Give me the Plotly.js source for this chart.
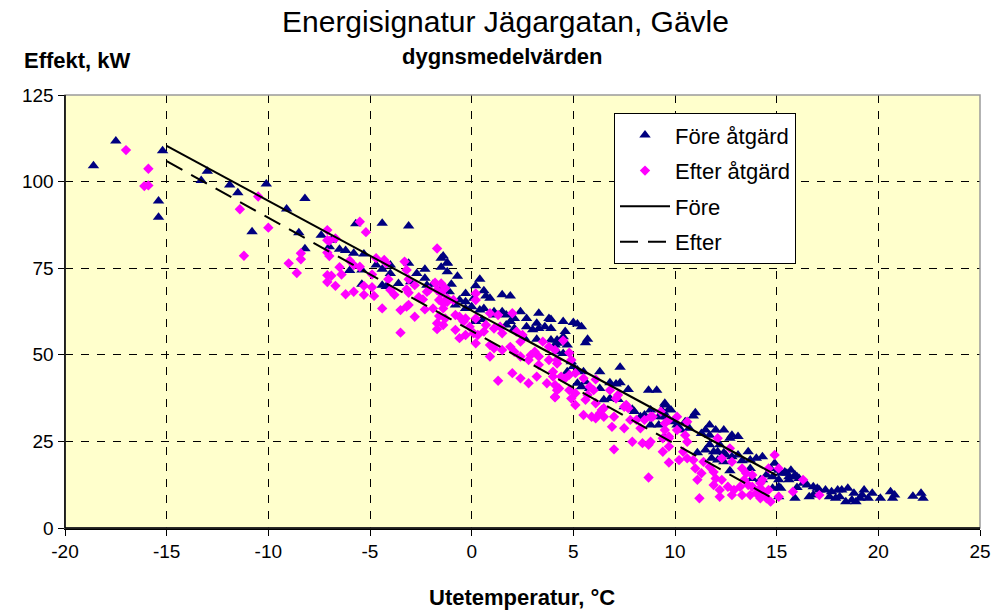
<!DOCTYPE html>
<html>
<head>
<meta charset="utf-8">
<script src="https://cdn.plot.ly/plotly-3.0.1.min.js"></script>
<style>html,body{margin:0;padding:0;background:#fff;}#chart{width:1000px;height:612px;}</style>
</head>
<body>
<div id="chart"></div>
<script>
// Före åtgärd (triangles): outdoor temperature °C and power kW
const foreX = [-17.5,-18.6,-15.2,-13.0,-13.3,-11.9,-11.5,-10.1,-15.4,-15.4,-10.8,-9.1,-8.2,-8.5,-8.2,-7.4,
  -5.7,-4.4,-3.1,-6.9,-7.0,-6.5,-6.2,-5.8,-5.3,-6.0,-5.4,-4.7,-4.4,-4.0,-4.0,-5.4,-4.4,-4.2,-3.6,-3.1,-2.7,-2.3,-2.3,-2.2,-3.0,-1.4,-1.2,-1.2,-1.5,-1.9,-1.4,
  -1.5,-1.2,-0.7,0.4,0.2,-1.0,-1.1,-0.3,0.6,0.7,0.9,-0.6,-0.3,0.1,1.5,1.9,-0.8,-0.3,0.0,0.4,0.6,1.1,1.1,1.5,1.7,2.4,2.7,3.3,3.8,2.1,1.9,0.2,0.5,1.4,1.7,2.1,2.7,3.0,3.3,3.6,3.2,3.9,4.2,4.1,2.6,3.2,
  3.9,4.5,5.0,5.2,5.4,4.6,4.5,5.7,5.6,3.9,4.2,4.7,4.2,4.5,4.9,5.0,4.7,5.2,5.5,6.3,7.3,5.2,5.4,5.6,5.8,6.3,6.8,7.1,7.3,7.7,6.5,6.8,7.2,7.9,8.0,7.5,8.7,9.1,9.5,9.8,9.4,8.8,8.5,9.2,9.6,8.8,9.2,8.3,9.5,10.1,
  9.5,9.7,9.4,11.0,10.9,9.9,10.5,10.7,10.3,11.7,11.5,11.3,11.7,12.0,12.4,12.8,13.1,12.7,11.1,11.5,11.7,11.9,12.2,12.1,12.4,12.5,12.8,13.1,13.6,14.0,14.3,13.3,13.7,12.7,12.4,11.8,12.1,14.7,14.9,15.1,15.4,15.7,16.0,15.6,15.1,14.8,14.5,14.3,15.1,14.8,15.1,16.0,13.7,13.8,14.2,
  15.2,15.5,15.6,15.9,16.1,16.3,16.5,16.8,17.0,17.1,15.2,15.9,16.6,16.8,17.4,17.7,18.0,18.2,18.5,17.6,17.9,18.1,18.4,18.7,18.9,19.1,18.8,19.2,19.3,19.5,19.7,20.1,20.6,20.8,20.7,21.7,22.1,22.2];
const foreY = [111.7,104.6,108.9,103.0,100.3,99.0,96.8,99.3,94.4,89.7,85.5,92.1,95.1,85.2,80.6,84.5,
  87.8,88.0,87.2,83.1,81.2,80.5,80.1,79.3,79.1,74.3,74.5,75.9,74.7,73.5,75.9,70.4,70.1,69.7,70.6,76.4,73.5,74.7,72.1,70.1,71.1,78.5,76.6,74.0,75.3,70.4,69.7,
  77.9,76.4,72.7,71.8,69.9,70.4,68.2,67.7,68.5,67.0,66.3,65.8,65.3,66.3,67.3,67.0,64.4,63.4,63.9,62.9,63.4,62.4,61.5,62.4,61.5,62.4,60.5,62.0,60.5,60.5,59.6,59.6,60.2,58.1,58.6,57.6,58.1,57.2,57.6,58.1,59.1,57.6,54.3,52.8,54.8,54.5,
  60.2,59.6,59.3,58.9,58.1,56.7,55.2,54.5,53.5,54.3,53.3,52.8,50.9,50.4,48.0,46.6,45.1,45.6,45.1,45.1,46.4,41.8,40.8,42.2,40.3,40.3,41.9,41.6,41.9,40.0,37.0,37.4,37.1,34.3,33.6,35.0,39.8,39.8,36.0,34.1,33.6,34.1,32.6,32.1,32.1,29.7,29.7,32.1,25.9,29.7,
  35.5,34.3,32.1,33.3,32.3,30.7,30.7,28.8,28.3,29.7,28.3,27.3,26.8,28.3,28.3,26.8,26.4,25.9,21.7,22.5,24.0,22.0,24.0,22.0,21.7,21.1,20.6,21.1,22.0,20.1,20.6,19.4,19.6,16.5,19.1,20.1,19.6,17.2,18.7,16.7,16.2,16.7,14.8,13.9,13.9,14.8,15.3,13.9,11.9,11.5,9.0,11.7,17.2,14.3,13.9,
  15.8,15.8,14.8,15.3,14.3,12.9,12.4,11.9,11.5,11.0,11.5,8.6,9.0,9.5,11.0,10.5,11.0,11.0,11.5,9.0,8.6,9.0,7.6,8.1,7.6,8.6,10.0,9.5,11.0,8.6,10.0,8.6,10.5,9.5,8.6,9.2,10.0,8.6];

// Efter åtgärd (diamonds)
const efterX = [-17.0,-15.9,-16.1,-15.9,-10.5,-11.4,-10.0,-11.2,-8.4,-8.4,-9.0,-8.6,-7.1,-7.1,-7.1,-7.1,-7.1,
  -5.5,-5.2,-7.0,-6.7,-7.0,-6.0,-5.8,-6.5,-6.4,-6.9,-6.7,-6.2,-5.8,-5.3,-5.3,-4.9,-4.8,-5.5,-4.9,-4.7,-4.3,-4.2,-4.4,-4.1,-4.0,-3.8,-3.5,-3.2,-3.1,-3.3,-3.2,-3.1,-3.2,-3.1,-2.8,-2.6,-2.8,-3.5,-2.4,-2.2,-2.1,-2.3,-1.7,-1.8,-1.7,-1.9,-1.6,-1.4,-1.2,-1.7,-1.7,-1.6,
  -1.5,-1.3,-1.5,-1.2,-0.9,-1.4,0.2,0.2,-0.8,-0.6,-0.4,-0.3,-0.8,-0.6,-0.3,-0.1,0.2,0.9,1.3,2.0,0.1,0.3,0.6,0.7,1.1,1.4,1.5,0.2,0.9,1.1,1.5,1.9,0.9,2.2,2.5,2.4,2.1,2.4,2.9,3.1,3.3,3.5,3.8,4.1,2.8,3.3,3.8,2.0,2.4,2.8,3.2,3.7,4.0,4.2,4.1,1.3,-1.3,-1.4,
  4.5,4.8,4.9,4.2,4.2,4.0,4.4,4.6,4.8,5.1,4.1,4.3,4.1,4.8,5.1,4.9,5.1,5.5,5.8,6.0,5.7,5.6,6.1,6.8,7.2,7.1,6.1,6.4,6.5,6.3,5.9,5.5,6.1,6.5,7.0,7.5,7.7,7.6,6.9,7.5,7.8,8.1,8.3,8.5,8.8,7.9,8.4,8.8,8.7,8.9,9.3,9.5,9.7,10.1,9.7,9.4,9.7,7.0,8.7,
  9.5,9.7,9.4,10.6,10.1,10.5,10.6,9.7,10.2,10.4,10.6,10.9,11.0,11.4,11.3,11.1,11.7,11.9,12.1,12.3,12.7,12.8,12.0,12.3,12.6,12.2,11.9,11.2,12.2,12.8,12.9,13.2,13.3,13.3,13.5,13.8,13.4,13.6,13.8,13.7,14.0,14.2,14.3,14.5,14.6,14.7,14.3,14.2,14.2,14.9,15.1,14.6,15.8,
  15.1,16.3,17.1];
const efterY = [109.1,103.7,98.7,98.9,95.7,92.0,86.7,78.6,79.3,77.6,76.4,73.6,86.0,83.1,79.5,73.0,71.0,
  88.4,85.4,82.9,83.6,78.5,77.2,75.9,75.3,73.2,72.8,69.9,67.5,68.2,69.9,67.3,69.5,67.0,75.4,73.2,77.9,77.4,76.4,63.4,71.8,68.7,67.3,62.9,63.9,64.4,76.9,74.5,71.8,68.9,67.9,70.1,66.6,61.0,56.4,66.0,68.2,68.7,63.1,80.7,70.8,68.7,63.4,65.8,64.9,65.3,59.1,57.4,61.2,
  70.6,69.2,67.7,66.3,65.8,63.4,67.7,65.8,61.5,61.0,59.6,60.5,57.2,54.8,55.7,58.1,60.5,62.0,61.5,62.0,56.2,55.7,56.7,58.6,57.6,58.1,56.2,53.3,52.8,51.9,51.4,52.3,49.5,56.7,55.7,53.8,50.9,49.5,49.9,50.9,49.5,53.8,52.3,51.4,48.5,47.1,48.5,44.7,43.2,41.8,43.7,41.8,43.7,39.8,37.9,42.5,60.5,58.6,
  54.1,50.6,48.5,48.5,47.5,45.1,43.7,43.2,44.2,44.7,41.3,40.3,37.7,39.8,38.9,37.4,35.5,43.2,40.8,39.8,38.4,37.0,42.9,39.8,38.4,37.4,36.0,34.1,34.6,33.1,32.1,32.6,31.7,32.1,32.1,35.0,34.6,35.5,29.2,28.8,31.2,31.2,28.8,31.2,32.1,24.9,24.5,24.9,24.0,32.1,33.6,30.2,31.2,32.1,23.5,22.0,26.4,22.7,14.6,
  28.3,25.9,25.9,30.7,28.3,26.8,24.9,18.9,19.6,22.0,20.1,19.6,17.2,19.1,15.8,13.9,17.7,16.2,25.9,20.1,23.0,19.1,14.3,13.9,11.9,11.0,12.4,8.6,9.0,9.5,11.0,11.9,9.5,17.2,15.8,15.3,13.9,12.4,11.9,9.5,10.0,8.6,10.0,8.6,11.0,7.6,13.9,12.9,11.5,21.1,17.2,17.2,10.5,
  9.0,13.9,9.5];

// Regression lines
const foreLineX = [-15, 15];
const foreLineY = [110.3, 15.2];
const efterLineX = [-15, 15];
const efterLineY = [105.9, 7.9];

const xTicks = [-20,-15,-10,-5,0,5,10,15,20,25];
const yTicks = [0,25,50,75,100,125];

const FONT = 'Liberation Sans, Arial, sans-serif';

const traces = [
  {x: foreX, y: foreY, type: 'scatter', mode: 'markers', name: 'Före åtgärd', legendgroup: 'a',
   marker: {symbol: 'triangle-up', size: 10, color: '#000080', line: {width: 0}}},
  {x: efterX, y: efterY, type: 'scatter', mode: 'markers', name: 'Efter åtgärd', legendgroup: 'b',
   marker: {symbol: 'diamond', size: 8, color: '#FF00FF', line: {width: 0}}},
  {x: foreLineX, y: foreLineY, type: 'scatter', mode: 'lines', name: 'Före', legendgroup: 'c',
   line: {color: '#000000', width: 2}},
  {x: efterLineX, y: efterLineY, type: 'scatter', mode: 'lines', name: 'Efter', legendgroup: 'd',
   line: {color: '#000000', width: 2, dash: '18px,10px'}}
];

const layout = {
  width: 1000, height: 612,
  margin: {l: 65, r: 20, t: 95, b: 84},
  paper_bgcolor: '#ffffff',
  plot_bgcolor: '#FFFFCC',
  font: {family: FONT, color: '#000000', size: 18},
  showlegend: true,
  legend: {x: 0.6, y: 0.958, xanchor: 'left', yanchor: 'top', bgcolor: '#ffffff',
    bordercolor: '#000000', borderwidth: 1, font: {family: FONT, size: 22, color: '#000'},
    tracegroupgap: 4, traceorder: 'grouped', itemwidth: 50},
  xaxis: {range: [-20, 25], tickvals: xTicks, ticktext: xTicks.map(String), showgrid: true,
    gridcolor: '#000000', gridwidth: 1, griddash: '8px,8px', zeroline: false,
    showline: true, linecolor: '#000000', linewidth: 1.5, ticks: 'outside', ticklen: 6,
    tickcolor: '#000', tickfont: {size: 19, family: FONT}, fixedrange: true},
  yaxis: {range: [0, 125], tickvals: yTicks, ticktext: yTicks.map(String), showgrid: true,
    gridcolor: '#000000', gridwidth: 1, griddash: '8px,8px', zeroline: false,
    showline: true, linecolor: '#000000', linewidth: 1.5, ticks: 'outside', ticklen: 6,
    tickcolor: '#000', tickfont: {size: 19, family: FONT}, fixedrange: true},
  shapes: [
    {type: 'rect', xref: 'paper', yref: 'paper', x0: 0, x1: 1, y0: 0, y1: 1,
     line: {color: '#9a9a9a', width: 1.5}, fillcolor: 'rgba(0,0,0,0)', layer: 'above'},
    {type: 'line', xref: 'paper', yref: 'paper', x0: 0, x1: 0, y0: 0, y1: 1,
     line: {color: '#000', width: 1.5}, layer: 'above'},
    {type: 'line', xref: 'paper', yref: 'paper', x0: 0, x1: 1, y0: 0, y1: 0,
     line: {color: '#000', width: 1.5}, layer: 'above'}
  ],
  annotations: [
    {text: 'Energisignatur Jägargatan, Gävle', xref: 'paper', yref: 'paper', x: 0.481, y: 1.1686,
     xanchor: 'center', yanchor: 'middle', showarrow: false, font: {size: 30, family: FONT}},
    {text: '<b>dygnsmedelvärden</b>', xref: 'paper', yref: 'paper', x: 0.478, y: 1.0878,
     xanchor: 'center', yanchor: 'middle', showarrow: false, font: {size: 22, family: FONT}},
    {text: '<b>Effekt, kW</b>', xref: 'paper', yref: 'paper', x: -0.047, y: 1.0808,
     xanchor: 'left', yanchor: 'middle', showarrow: false, font: {size: 22, family: FONT}},
    {text: '<b>Utetemperatur, °C</b>', xref: 'paper', yref: 'paper', x: 0.4995, y: -0.1594,
     xanchor: 'center', yanchor: 'middle', showarrow: false, font: {size: 22, family: FONT}}
  ]
};

Plotly.newPlot('chart', traces, layout, {displayModeBar: false, staticPlot: true});
</script>
</body>
</html>
